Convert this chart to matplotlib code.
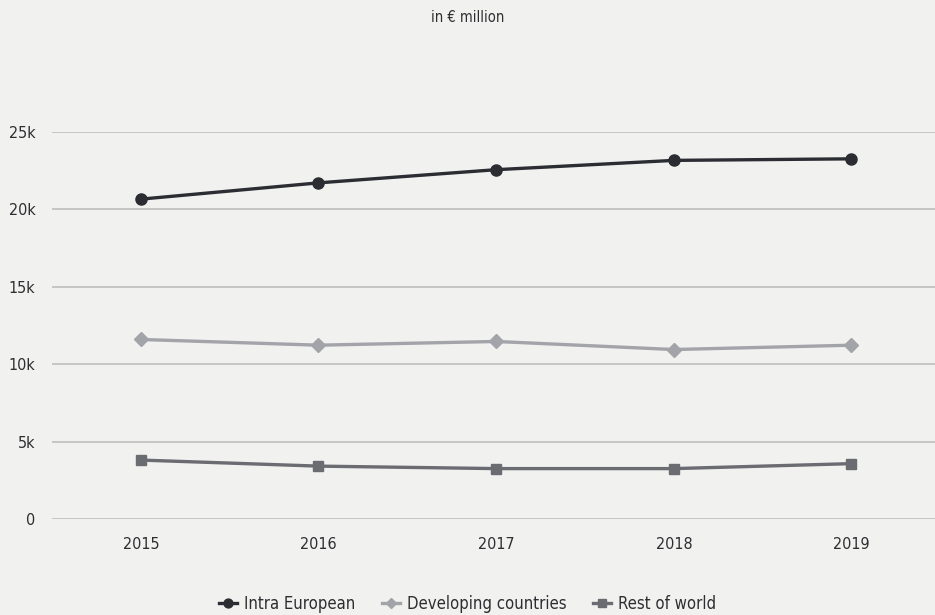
import matplotlib
matplotlib.use('Agg')
import matplotlib.pyplot as plt
from matplotlib import font_manager

# yearly values in EUR million
years = ['2015', '2016', '2017', '2018', '2019']
intra_european = [20650, 21700, 22550, 23150, 23250]
developing = [11600, 11230, 11470, 10950, 11230]
rest_of_world = [3820, 3430, 3270, 3270, 3590]

y_ticks = [0, 5000, 10000, 15000, 20000, 25000]
y_labels = ['0', '5k', '10k', '15k', '20k', '25k']

# narrow face if there is one
names = {f.name for f in font_manager.fontManager.ttflist}
condensed = [f for f in font_manager.fontManager.ttflist
             if f.name == 'DejaVu Sans' and f.stretch == 'condensed']
if 'Liberation Sans Narrow' in names:
    plt.rcParams['font.family'] = ['Liberation Sans Narrow', 'DejaVu Sans']
elif condensed:
    plt.rcParams['font.family'] = ['DejaVu Sans']
    plt.rcParams['font.stretch'] = 'condensed'
else:
    plt.rcParams['font.family'] = ['Roboto', 'DejaVu Sans']

BG = '#f1f1f0'
TEXT = '#2e2e32'

fig = plt.figure(figsize=(9.35, 6.15), dpi=100, facecolor=BG)
ax = fig.add_axes([52 / 935, (615 - 519.3) / 615, 1 - 52 / 935, (519.3 - 131.7) / 615])
ax.set_facecolor(BG)

x = list(range(len(years)))
ax.plot(x, intra_european, color='#2c2d33', lw=2.4, marker='o', ms=8,
        label='Intra European', zorder=4)
ax.plot(x, developing, color='#a3a3aa', lw=2.4, marker='D', ms=7,
        label='Developing countries', zorder=3)
ax.plot(x, rest_of_world, color='#6b6b72', lw=2.4, marker='s', ms=7,
        label='Rest of world', zorder=3)

ax.set_xlim(-0.5, 4.47)
ax.set_ylim(0, 25000)
ax.set_xticks(x)
ax.set_xticklabels(years)
ax.set_yticks(y_ticks)
ax.set_yticklabels(y_labels)
ax.tick_params(axis='both', length=0, labelsize=11.5, colors=TEXT)
ax.tick_params(axis='y', pad=12)
ax.tick_params(axis='x', pad=13)
ax.grid(axis='y', color='#c2c2c2', lw=1.3)
ax.set_axisbelow(True)
for s in ax.spines.values():
    s.set_visible(False)

fig.text(0.5, 1 - 18 / 615, 'in € million', ha='center', va='center',
         fontsize=10.5, color=TEXT)

fig.legend(loc='center', bbox_to_anchor=(0.5, 1 - 604 / 615), ncol=3,
           frameon=False, fontsize=12, handlelength=1.1, columnspacing=1.6,
           handletextpad=0.4, labelcolor=TEXT, markerscale=0.8)

fig.savefig('out.png', dpi=100, facecolor=BG)
